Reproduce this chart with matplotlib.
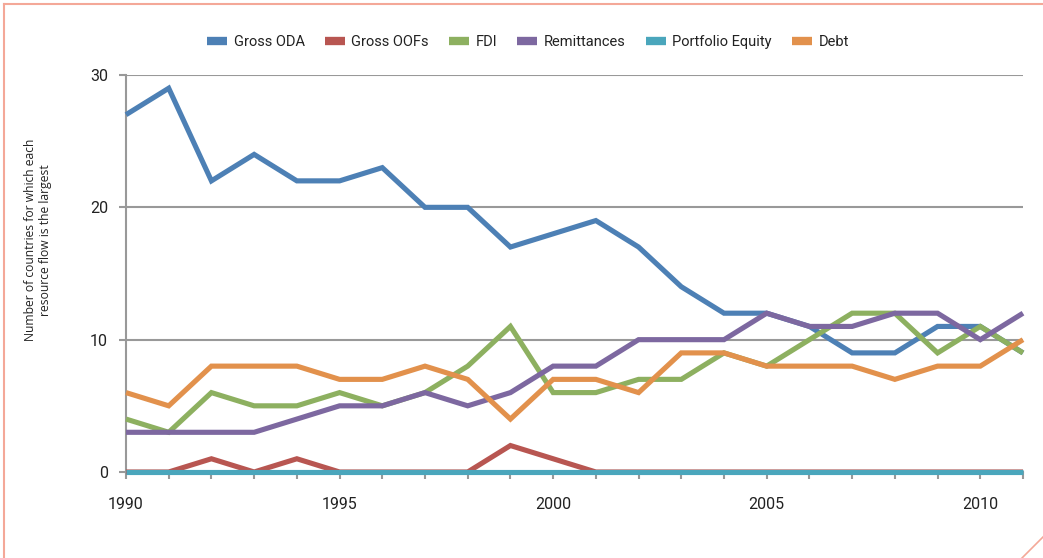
import matplotlib
matplotlib.use("Agg")
import matplotlib.pyplot as plt
from matplotlib.lines import Line2D

years = list(range(1990, 2012))
gross_oda = [27, 29, 22, 24, 22, 22, 23, 20, 20, 17, 18, 19, 17, 14, 12, 12, 11, 9, 9, 11, 11, 9]
gross_oofs = [0, 0, 1, 0, 1, 0, 0, 0, 0, 2, 1, 0, 0, 0, 0, 0, 0, 0, 0, 0, 0, 0]
fdi = [4, 3, 6, 5, 5, 6, 5, 6, 8, 11, 6, 6, 7, 7, 9, 8, 10, 12, 12, 9, 11, 9]
remittances = [3, 3, 3, 3, 4, 5, 5, 6, 5, 6, 8, 8, 10, 10, 10, 12, 11, 11, 12, 12, 10, 12]
portfolio_equity = [0] * 22
debt = [6, 5, 8, 8, 8, 7, 7, 8, 7, 4, 7, 7, 6, 9, 9, 8, 8, 8, 7, 8, 8, 10]

series_names = ["Gross ODA", "Gross OOFs", "FDI", "Remittances", "Portfolio Equity", "Debt"]
series_values = [gross_oda, gross_oofs, fdi, remittances, portfolio_equity, debt]
colors = ["#4D80B5", "#B85651", "#8DB060", "#7D68A0", "#4AA6BC", "#E2914C"]
xtick_labels = ["1990", "1995", "2000", "2005", "2010"]
ytick_values = [0, 10, 20, 30]

plt.rcParams['font.family'] = ['Roboto', 'DejaVu Sans']

W, H = 1043, 558
fig = plt.figure(figsize=(W / 100, H / 100), dpi=100)
ax = fig.add_axes([126 / W, 1 - 472 / H, (1023 - 126) / W, (472 - 75) / H])

grid_c = "#999999"
for yv in ytick_values[1:]:
    ax.axhline(yv, color=grid_c, lw=1.5, zorder=1)

for name, vals, c in zip(series_names, series_values, colors):
    ax.plot(years, vals, color=c, lw=3.7, label=name, zorder=3, clip_on=False,
            solid_joinstyle='miter', solid_capstyle='butt')

ax.set_xlim(1990, 2011)
ax.set_ylim(0, 30)
ax.set_xticks([int(t) for t in xtick_labels])
ax.set_xticklabels(xtick_labels)
ax.set_xticks(years, minor=True)
ax.set_yticks(ytick_values)
ax.set_yticklabels([str(v) for v in ytick_values])

for s in ["top", "right"]:
    ax.spines[s].set_visible(False)
for s in ["left", "bottom"]:
    ax.spines[s].set_color(grid_c)
    ax.spines[s].set_linewidth(1.5)

ax.tick_params(axis='x', which='both', direction='out', length=5, width=1.5, color=grid_c,
               labelsize=11.5, pad=13, labelcolor="#222222")
ax.tick_params(axis='y', which='both', direction='out', length=5, width=1.5, color=grid_c,
               labelsize=11.5, pad=8, labelcolor="#222222")

fig.text(38 / W, 1 - 240 / H, "Number of countries for which each\nresource flow is the largest",
         rotation=90, ha='center', va='center', fontsize=8.7, family=['Open Sans', 'DejaVu Sans'],
         color="#222222", linespacing=1.25)

handles = [Line2D([0], [0], color=c, lw=6, solid_capstyle='butt') for c in colors]
fig.legend(handles, series_names, loc='center', bbox_to_anchor=(528 / W, 1 - 42 / H), ncol=6,
           frameon=False, fontsize=10.5, handlelength=1.35, handletextpad=0.45, columnspacing=1.4,
           labelcolor="#222222")

# decorative frame
bc = "#F4A898"
fig.add_artist(Line2D([4 / W, 4 / W], [0, 1 - 4 / H], color=bc, lw=1.5, transform=fig.transFigure))
fig.add_artist(Line2D([4 / W, 1], [1 - 4 / H, 1 - 4 / H], color=bc, lw=1.5, transform=fig.transFigure))
fig.add_artist(Line2D([1022 / W, 1], [0, 21 / H], color=bc, lw=1.2, transform=fig.transFigure))

fig.savefig("out.png", dpi=100)
